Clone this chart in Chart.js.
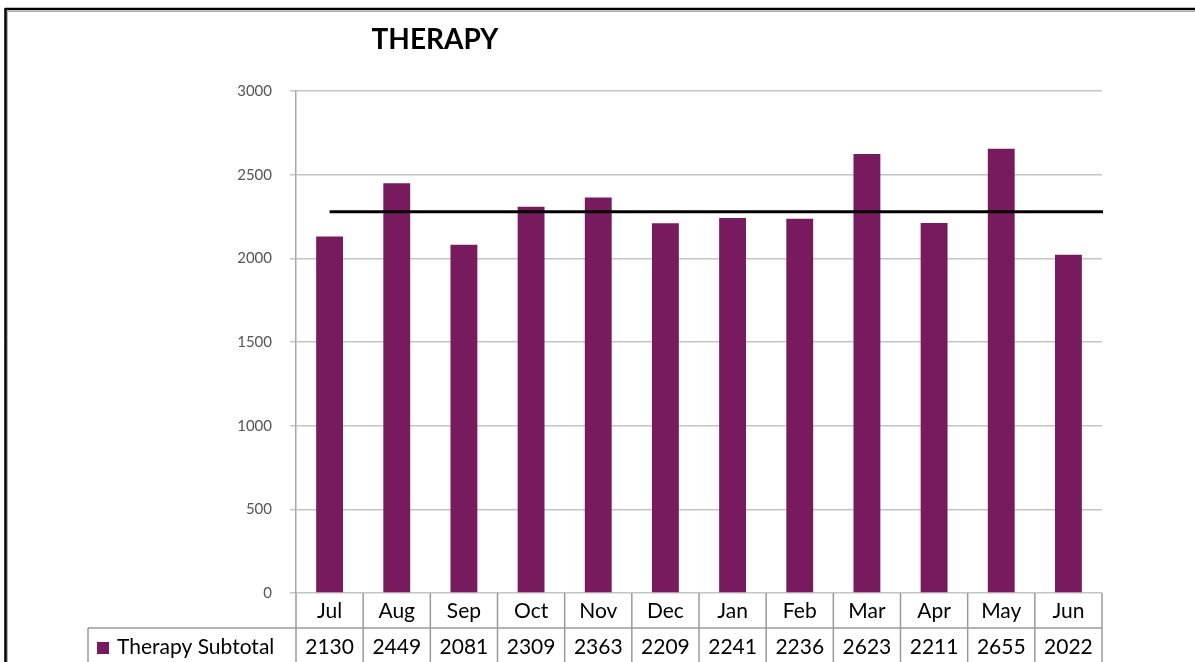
<!DOCTYPE html>
<html>
<head>
<meta charset="utf-8">
<script src="https://cdn.jsdelivr.net/npm/chart.js@4.4.1/dist/chart.umd.min.js"></script>
<style>
  html, body { margin: 0; padding: 0; background: #fff; }
  canvas { display: block; }
</style>
</head>
<body>
<canvas id="myChart" width="1195" height="662"></canvas>
<script>
// data
const months = ['Jul', 'Aug', 'Sep', 'Oct', 'Nov', 'Dec', 'Jan', 'Feb', 'Mar', 'Apr', 'May', 'Jun'];
const therapySubtotal = [2130, 2449, 2081, 2309, 2363, 2209, 2241, 2236, 2623, 2211, 2655, 2022];
const averageLine = 2278;
const seriesName = 'Therapy Subtotal';
const chartTitle = 'THERAPY';
const yTicks = [0, 500, 1000, 1500, 2000, 2500, 3000];

const barColor = '#781b5e';
const tableLine = '#9a9a9a';
const font = 'Lato, "Open Sans", sans-serif';

const ctx = document.getElementById('myChart');

// frame, title, average line and the data table under the plot
const extras = {
  id: 'extras',
  beforeDraw: (chart) => {
    const c = chart.ctx;
    c.save();
    c.fillStyle = '#fff';
    c.fillRect(0, 0, chart.width, chart.height);
    // outer frame (only top and left show in the crop)
    c.strokeStyle = '#b0b0b0';
    c.lineWidth = 1;
    c.beginPath();
    c.moveTo(7, 11.5); c.lineTo(chart.width, 11.5);
    c.moveTo(7.5, 11); c.lineTo(7.5, chart.height);
    c.stroke();
    c.strokeStyle = '#000';
    c.lineWidth = 2.5;
    c.beginPath();
    c.moveTo(5, 9); c.lineTo(chart.width, 9);
    c.moveTo(5.5, 8); c.lineTo(5.5, chart.height);
    c.stroke();
    // title
    c.fillStyle = '#000';
    c.font = 'bold 28px ' + font;
    c.textAlign = 'center';
    c.textBaseline = 'middle';
    c.fillText(chartTitle, 435, 40);
    c.restore();
  },
  afterDatasetsDraw: (chart) => {
    const { ctx: c, chartArea, scales: { x, y } } = chart;
    c.save();
    // average line across the bars
    const yAvg = y.getPixelForValue(averageLine);
    c.strokeStyle = '#000';
    c.lineWidth = 3;
    c.beginPath();
    c.moveTo(x.getPixelForValue(0), yAvg);
    c.lineTo(chartArea.right + 1, yAvg);
    c.stroke();

    // data table
    const step = x.getPixelForValue(1) - x.getPixelForValue(0);
    const row1Top = chartArea.bottom;
    const row2Top = row1Top + 35;
    const row2Bottom = row2Top + 35;
    const labelLeft = 88;
    c.strokeStyle = tableLine;
    c.lineWidth = 1.5;
    c.beginPath();
    c.moveTo(labelLeft, row2Top); c.lineTo(chartArea.right, row2Top);
    c.moveTo(labelLeft, row2Top); c.lineTo(labelLeft, row2Bottom);
    for (let i = 0; i <= months.length; i++) {
      const xi = x.getPixelForValue(i) - step / 2;
      c.moveTo(xi, row1Top); c.lineTo(xi, row2Bottom);
    }
    c.stroke();

    c.fillStyle = '#000';
    c.font = '21px ' + font;
    c.textAlign = 'center';
    c.textBaseline = 'middle';
    months.forEach((m, i) => {
      c.fillText(m, x.getPixelForValue(i), row1Top + 18);
      c.fillText(String(therapySubtotal[i]), x.getPixelForValue(i), row2Top + 19);
    });
    // legend key + series name
    c.fillStyle = barColor;
    c.fillRect(97, 642, 12, 12);
    c.fillStyle = '#000';
    c.textAlign = 'left';
    c.fillText(seriesName, 117, row2Top + 19);
    c.restore();
  }
};

new Chart(ctx, {
  type: 'bar',
  data: {
    labels: months,
    datasets: [{
      label: seriesName,
      data: therapySubtotal,
      backgroundColor: barColor,
      borderWidth: 0,
      barPercentage: 0.4,
      categoryPercentage: 1
    }]
  },
  options: {
    responsive: false,
    animation: false,
    layout: { padding: { left: 0, top: 91, right: 93, bottom: 69 } },
    plugins: {
      legend: { display: false },
      title: { display: false },
      tooltip: { enabled: false }
    },
    scales: {
      x: { display: false },
      y: {
        min: 0,
        max: 3000,
        afterFit: (scale) => { scale.width = 296; },
        afterBuildTicks: (scale) => { scale.ticks = yTicks.map(v => ({ value: v })); },
        ticks: {
          padding: 18,
          color: '#555',
          font: { family: font, size: 15 },
          callback: (v) => String(v)
        },
        grid: { color: '#c4c4c4', lineWidth: 1.5, tickLength: 6 },
        border: { color: '#a8a8a8', width: 1.5 }
      }
    }
  },
  plugins: [extras]
});
</script>
</body>
</html>
